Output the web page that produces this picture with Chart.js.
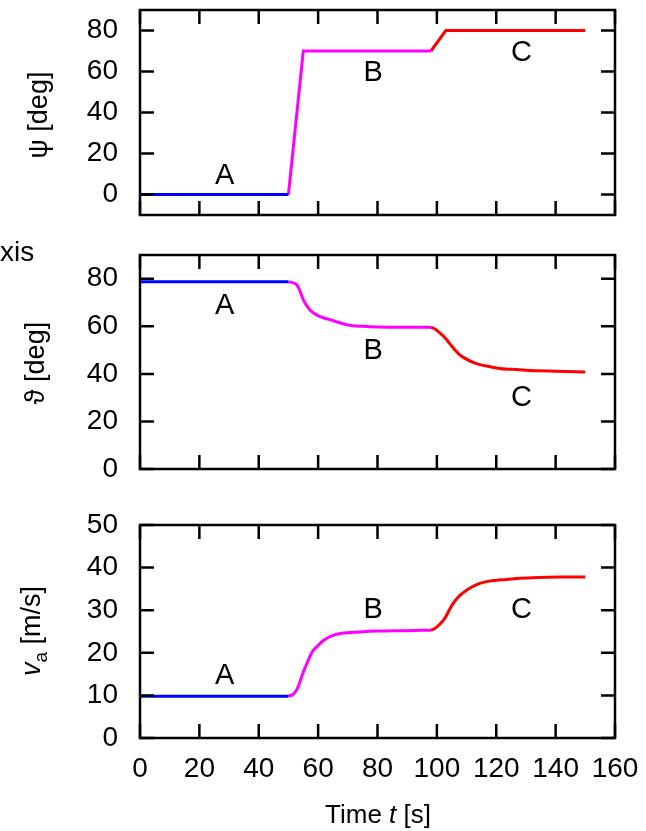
<!DOCTYPE html>
<html>
<head>
<meta charset="utf-8">
<script src="https://cdn.jsdelivr.net/npm/chart.js@4.4.1/dist/chart.umd.min.js"></script>
<style>
  body { margin: 0; background: #fff; }
  #wrap { position: relative; width: 646px; height: 831px; font-family: "Liberation Sans", Arial, sans-serif; color: #000; }
  canvas { position: absolute; left: 0; }
  .ytitle { position: absolute; transform: translate(-50%, -50%) rotate(-90deg); white-space: nowrap; font-size: 27px; }
  .txt { position: absolute; white-space: nowrap; }
</style>
</head>
<body>
<div id="wrap">
  <canvas id="psiChart" width="646" height="240" style="top:0"></canvas>
  <canvas id="thetaChart" width="646" height="250" style="top:240px"></canvas>
  <canvas id="vaChart" width="646" height="341" style="top:490px"></canvas>

  <div class="ytitle" style="left:38px; top:115px">&psi; [deg]</div>
  <div class="ytitle" style="left:35px; top:363px">&#977; [deg]</div>
  <div class="ytitle" style="left:34px; top:631px"><i>v</i><sub style="font-size:19px">a</sub> [m/s]</div>
  <div class="txt" style="left:0; top:236px; font-size:28px">xis</div>
  <div class="txt" style="left:378px; top:814px; font-size:26px; transform:translate(-50%,-50%)">Time <i>t</i> [s]</div>
</div>

<script>
// x axis ticks (time, s)
const timeTicks = [0, 20, 40, 60, 80, 100, 120, 140, 160];

// psi [deg]
const psiA_t = [0, 50];
const psiA = [0, 0];
const psiB_t = [50, 55, 98];
const psiB = [0, 70, 70];
const psiC_t = [98, 103, 150];
const psiC = [70, 80, 80];
const psiTicks = [0, 20, 40, 60, 80];

// theta [deg]
const thetaA_t = [0, 50];
const thetaA = [78.7, 78.7];
const thetaB_t = [50, 51.5, 52.8, 54, 55, 56, 57.2, 58.5, 60, 62, 64, 67, 70, 75, 80, 90, 98];
const thetaB = [78.7, 78.3, 77.5, 74.5, 71.2, 69, 67, 65.6, 64.5, 63.5, 62.8, 61.6, 60.6, 60.0, 59.7, 59.6, 59.6];
const thetaC_t = [98, 99.5, 101, 102.7, 104.5, 106, 107.7, 110, 112, 114.5, 118, 121, 125, 130, 140, 150];
const thetaC = [59.6, 58.8, 57.2, 55.2, 52.5, 50.2, 48, 46.2, 44.9, 43.9, 43.0, 42.3, 41.9, 41.5, 41.1, 40.8];
const thetaTicks = [0, 20, 40, 60, 80];

// v_a [m/s]
const vaA_t = [0, 50];
const vaA = [9.8, 9.8];
const vaB_t = [50, 51.5, 52.7, 53.6, 54.4, 55.5, 56.7, 58, 60, 62, 65, 68, 74, 80, 90, 98];
const vaB = [9.8, 10.2, 11.2, 12.6, 14.3, 16.3, 18.3, 20.2, 21.7, 23, 24.1, 24.6, 24.9, 25.1, 25.2, 25.3];
const vaC_t = [98, 99.3, 101, 102.7, 104, 105.5, 107.5, 110, 113, 116.7, 120, 123.4, 128, 134.7, 142, 150];
const vaC = [25.3, 25.7, 26.7, 28.1, 29.8, 31.6, 33.3, 34.7, 35.9, 36.7, 37.0, 37.2, 37.5, 37.7, 37.8, 37.8];
const vaTicks = [0, 10, 20, 30, 40, 50];

const segColors = ['#0000ff', '#ff00ff', '#ff0000'];
const FONT = '"Liberation Sans", Arial, sans-serif';

const toPoints = (ts, vs) => ts.map((t, i) => ({ x: t, y: vs[i] }));

// stop Chart.js from shrinking the plot area for overhanging tick labels
const noPad = s => { s.paddingTop = 0; s.paddingBottom = 0; s.paddingLeft = 0; s.paddingRight = 0; };

// frame, inward ticks on all four sides, and the A/B/C labels
const framePlugin = {
    id: 'frame',
    afterDatasetsDraw(chart, args, opts) {
        const { ctx, chartArea: a, scales: { x, y } } = chart;
        const len = 14;
        ctx.save();
        ctx.strokeStyle = '#000';
        ctx.lineWidth = 2.5;
        ctx.beginPath();
        timeTicks.forEach(v => {
            const px = x.getPixelForValue(v);
            ctx.moveTo(px, a.top); ctx.lineTo(px, a.top + len);
            ctx.moveTo(px, a.bottom); ctx.lineTo(px, a.bottom - len);
        });
        opts.yTicks.forEach(v => {
            const py = y.getPixelForValue(v);
            ctx.moveTo(a.left, py); ctx.lineTo(a.left + len, py);
            ctx.moveTo(a.right, py); ctx.lineTo(a.right - len, py);
        });
        ctx.stroke();
        ctx.strokeRect(a.left, a.top, a.right - a.left, a.bottom - a.top);

        ctx.fillStyle = '#000';
        ctx.font = '29px ' + FONT;
        ctx.textAlign = 'center';
        ctx.textBaseline = 'middle';
        opts.labels.forEach(l => {
            ctx.fillText(l.text, x.getPixelForValue(l.t), y.getPixelForValue(l.v) + 1);
        });
        ctx.restore();
    }
};

function makeChart(id, segs, smooth, yMin, yMax, yTicks, labels, padding, showX) {
    const datasets = segs.map((s, i) => ({
        data: toPoints(s[0], s[1]),
        borderColor: segColors[i],
        borderWidth: 3,
        pointRadius: 0,
        fill: false,
        tension: smooth ? 0.4 : 0,
        cubicInterpolationMode: smooth ? 'monotone' : 'default'
    }));

    return new Chart(document.getElementById(id), {
        type: 'line',
        data: { datasets },
        options: {
            responsive: false,
            animation: false,
            layout: { padding },
            plugins: {
                legend: { display: false },
                tooltip: { enabled: false },
                frame: { yTicks, labels }
            },
            scales: {
                x: {
                    type: 'linear',
                    min: 0, max: 160,
                    display: showX,
                    afterBuildTicks: s => { s.ticks = timeTicks.map(v => ({ value: v })); },
                    afterFit: s => { noPad(s); if (showX) s.height = 93; },
                    grid: { display: false, drawTicks: false },
                    border: { display: false },
                    ticks: {
                        autoSkip: false, maxRotation: 0, padding: 14,
                        color: '#000', font: { family: FONT, size: 28 }
                    }
                },
                y: {
                    min: yMin, max: yMax,
                    afterBuildTicks: s => { s.ticks = yTicks.map(v => ({ value: v })); },
                    afterFit: s => { noPad(s); s.width = 140; },
                    grid: { display: false, drawTicks: false },
                    border: { display: false },
                    ticks: {
                        padding: 22,
                        color: '#000', font: { family: FONT, size: 28 }
                    }
                }
            }
        },
        plugins: [framePlugin]
    });
}

makeChart('psiChart',
    [[psiA_t, psiA], [psiB_t, psiB], [psiC_t, psiC]], false,
    -10, 90, psiTicks,
    [{ text: 'A', t: 28.5, v: 9.5 }, { text: 'B', t: 78.5, v: 60 }, { text: 'C', t: 128.5, v: 69.5 }],
    { top: 10, right: 31, bottom: 25, left: 0 }, false);

makeChart('thetaChart',
    [[thetaA_t, thetaA], [thetaB_t, thetaB], [thetaC_t, thetaC]], true,
    0, 90, thetaTicks,
    [{ text: 'A', t: 28.5, v: 69 }, { text: 'B', t: 78.5, v: 50.2 }, { text: 'C', t: 128.5, v: 30.4 }],
    { top: 15, right: 31, bottom: 21, left: 0 }, false);

makeChart('vaChart',
    [[vaA_t, vaA], [vaB_t, vaB], [vaC_t, vaC]], true,
    0, 50, vaTicks,
    [{ text: 'A', t: 28.5, v: 14.8 }, { text: 'B', t: 78.5, v: 30.2 }, { text: 'C', t: 128.5, v: 30.2 }],
    { top: 35, right: 31, bottom: 0, left: 0 }, true);
</script>
</body>
</html>
